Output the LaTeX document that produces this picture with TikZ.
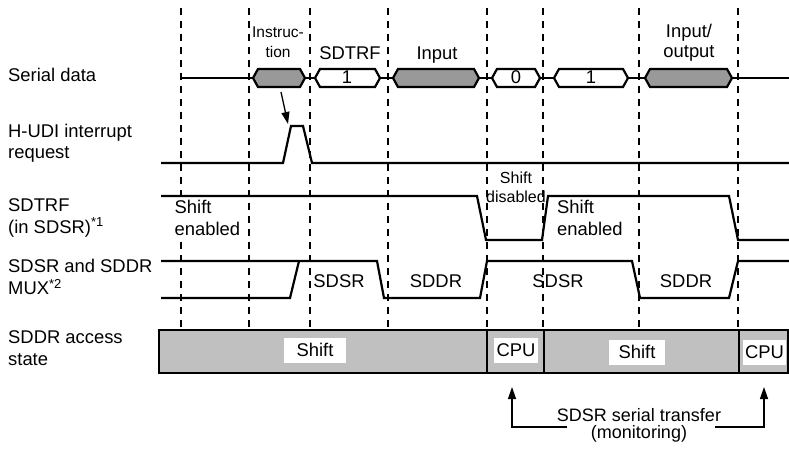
\documentclass[tikz,border=0pt]{standalone}
\usepackage{fontspec}
\setmainfont{Liberation Sans}
\usetikzlibrary{arrows.meta}
\definecolor{hexgray}{HTML}{999999}
\definecolor{bargray}{HTML}{C0C0C0}
\newcommand\hexbox[3]{%
  \draw[sig,fill=#1] (#2,78) -- (#2+5,69) -- (#3-5,69) -- (#3,78) -- (#3-5,87) -- (#2+5,87) -- cycle;}
\begin{document}
\begin{tikzpicture}[x=1pt,y=-1pt,
  sig/.style={line width=2.2pt, line join=miter},
  gridline/.style={line width=1.1pt, dash pattern=on 7pt off 6pt},
  lab/.style={font=\fontsize{18.4}{21.5}\selectfont, inner sep=0pt, align=left, anchor=base west},
  ctr/.style={font=\fontsize{18.4}{20}\selectfont, inner sep=0pt, align=center, anchor=base},
  small/.style={font=\fontsize{15.5}{20}\selectfont, inner sep=0pt, align=center, anchor=base},
  barlab/.style={font=\fontsize{18.4}{20}\selectfont, fill=white, inner sep=0pt, minimum height=25pt},
  tip/.style={-{Triangle[length=12pt,width=8pt]}, line width=1.3pt}
]
\useasboundingbox (0,0) rectangle (789,449);

% dashed grid
\foreach \x in {181,249,310,388,487,543,639,738}
  \draw[gridline] (\x,8) -- (\x,329);

% left labels (base anchor = last line's baseline)
\node[lab] (l1) at (8,82) {Serial data};
\node[lab] (l2) at (8,159) {H-UDI interrupt\\request};
\node[lab] (l3) at (8,233) {SDTRF\\(in SDSR)\raisebox{6pt}{\fontsize{13}{13}\selectfont *1}};
\node[lab] (l4) at (8,294) {SDSR and SDDR\\MUX\raisebox{6pt}{\fontsize{13}{13}\selectfont *2}};
\node[lab] (l5) at (8,365) {SDDR access\\state};

% serial data
\draw[sig] (181,78) -- (789,78);
\hexbox{hexgray}{253}{305}
\hexbox{white}{315}{380}
\hexbox{hexgray}{393}{479}
\hexbox{white}{492}{540}
\hexbox{white}{554}{628}
\hexbox{hexgray}{645}{732}
\node[ctr] (v1) at (347,84) {1};
\node[ctr] (v0) at (516,84) {0};
\node[ctr] (v2) at (591,84) {1};
\node[small] (tins) at (278,58) {Instruc-\\tion};
\node[ctr] (tsd) at (350,60) {SDTRF};
\node[ctr] (tin) at (437,60) {Input};
\node[ctr] (tio) at (689,58) {Input/\\output};

% H-UDI interrupt
\draw[sig] (161,163) -- (283,163) -- (291,126) -- (303,126) -- (312,163) -- (789,163);
\coordinate (ia) at (281,92);
\coordinate (ib) at (288,124);
\draw[tip] (ia) -- (ib);

% SDTRF
\draw[sig] (161,196) -- (477,196) -- (486,240) -- (542,240) -- (548,196) -- (729,196) -- (738,240) -- (789,240);
\node[lab, fill=white, inner sep=1.5pt] (se1) at (173,235) {Shift\\enabled};
\node[font=\fontsize{16}{20}\selectfont, inner sep=0pt, align=center, anchor=base] (sd) at (516,203) {Shift\\disabled};
\node[lab] (se2) at (557,235) {Shift\\enabled};

% MUX
\draw[sig] (161,261) -- (377,261) -- (384,298) -- (480,298) -- (487,261) -- (632,261) -- (640,298) -- (729,298) -- (738,261) -- (789,261);
\draw[sig] (161,298) -- (290,298) -- (299,261);
\node[ctr] (m1) at (339,287) {SDSR};
\node[ctr] (m2) at (436,287) {SDDR};
\node[ctr] (m3) at (558,287) {SDSR};
\node[ctr] (m4) at (686,287) {SDDR};

% access state bar
\node[draw, line width=2.2pt, fill=bargray, minimum width=629pt, minimum height=43pt, inner sep=0pt, anchor=north west] (bar) at (158,329) {};
\foreach \x in {487,544,739}
  \draw[line width=1.3pt] (\x,329) -- (\x,372);
\node[barlab, minimum width=62pt] (b1) at (315,350) {Shift};
\node[barlab, minimum width=44pt] (b2) at (516,350) {CPU};
\node[barlab, minimum width=56pt] (b3) at (637,352) {Shift};
\node[barlab, minimum width=43pt] (b4) at (764.5,352) {CPU};

% monitoring arrows
\node[font=\fontsize{18}{17.5}\selectfont, inner sep=0pt, align=center, anchor=base] (mon) at (639,438.5) {SDSR serial transfer\\(monitoring)};
\coordinate (c1) at (567,427);
\coordinate (t1) at (512,387);
\coordinate (c2) at (715,427);
\coordinate (t2) at (764,387);
\draw[tip] (c1) -| (t1);
\draw[tip] (c2) -| (t2);
\end{tikzpicture}
\end{document}
